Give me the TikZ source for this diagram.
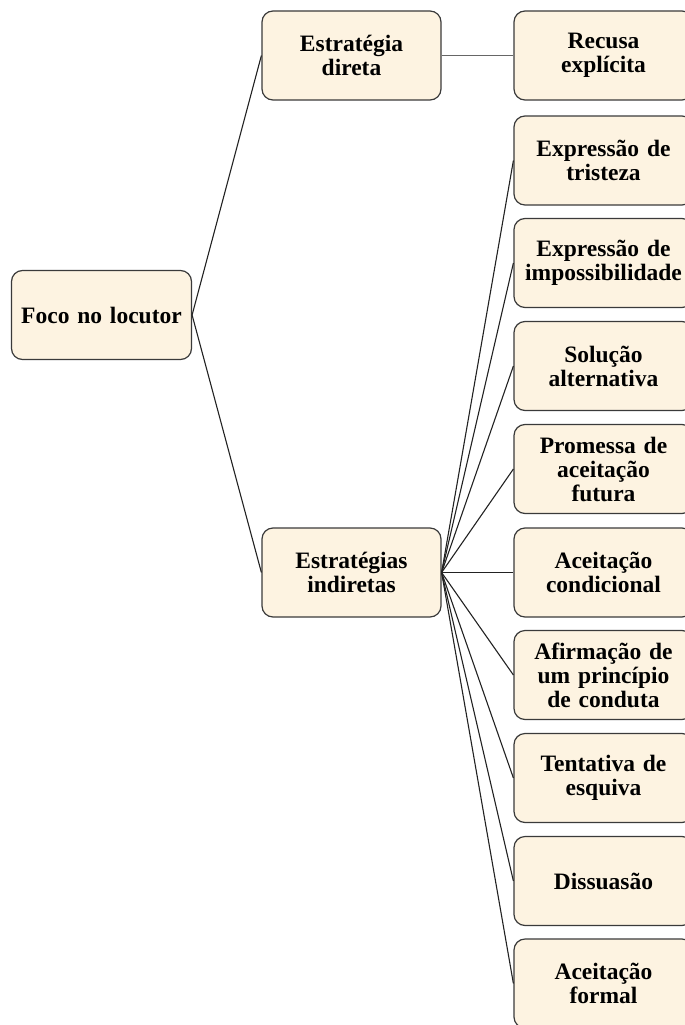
\documentclass[tikz,border=0pt]{standalone}
\usepackage{fontspec}
\setmainfont{Liberation Serif}
\definecolor{boxfill}{HTML}{FDF3E1}
\definecolor{boxline}{HTML}{3A3A3A}
\definecolor{conn}{HTML}{222222}
\begin{document}
\begin{tikzpicture}[x=1pt,y=-1pt,
  box/.style={draw=boxline, line width=1.2pt, fill=boxfill, rounded corners=11pt,
    minimum width=179pt, minimum height=89pt, inner xsep=0pt, inner ysep=2pt, align=center,
    font=\fontsize{23.5}{24}\selectfont\bfseries, text width=179pt},
  link/.style={draw=conn, line width=1.1pt}]
\useasboundingbox (0,0) rectangle (685,1025);
\clip (0,0) rectangle (685,1025);
\node[box, minimum width=180pt, text width=180pt] (root) at (101.5,315) {Foco no locutor};
\node[box] (dir) at (351.5,55.5) {Estratégia\\direta};
\node[box] (ind) at (351.5,572.5) {Estratégias\\indiretas};
\node[box] (r1) at (603.5,55.5) {Recusa\\explícita};
\node[box] (r2) at (603.5,160.5) {Expressão de\\tristeza};
\node[box] (r3) at (603.5,263) {Expressão de\\impossibilidade};
\node[box] (r4) at (603.5,366) {Solução\\alternativa};
\node[box] (r5) at (603.5,469) {Promessa de\\aceitação\\futura};
\node[box] (r6) at (603.5,572.5) {Aceitação\\condicional};
\node[box] (r7) at (603.5,675) {Afirmação de\\um princípio\\de conduta};
\node[box] (r8) at (603.5,778) {Tentativa de\\esquiva};
\node[box] (r9) at (603.5,881) {Dissuasão};
\node[box] (r10) at (603.5,983.5) {Aceitação\\formal};
\draw[link] (root.east) -- (dir.west);
\draw[link] (root.east) -- (ind.west);
\draw[link, draw=gray!80!black] (dir.east) -- (r1.west);
\foreach \n in {r2,r3,r4,r5,r6,r7,r8,r9,r10}
  \draw[link] (ind.east) -- (\n.west);
\end{tikzpicture}
\end{document}
